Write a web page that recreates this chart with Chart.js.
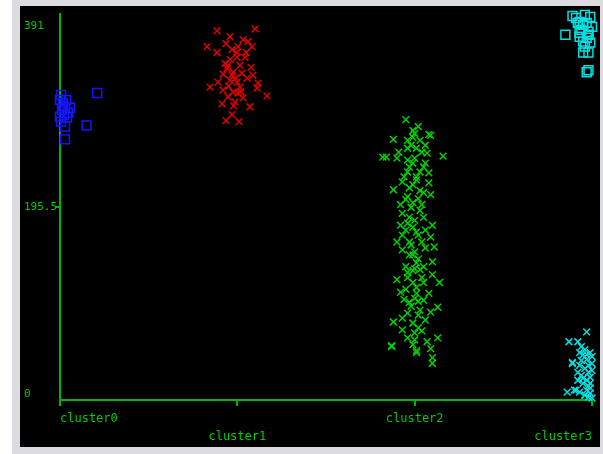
<!DOCTYPE html>
<html>
<head>
<meta charset="utf-8">
<script src="https://cdn.jsdelivr.net/npm/chart.js@4/dist/chart.umd.min.js"></script>
<style>
  body{margin:0;background:#fff;}
  #frame{position:absolute;left:12px;top:0;width:591px;height:454px;background:#dcdce0;}
  #plot{position:absolute;left:20px;top:6px;background:#000;}
</style>
</head>
<body>
<div id="frame"></div>
<canvas id="plot" width="580" height="441"></canvas>
<script>
// categories on the x axis (0..3), y axis ticks
const clusters = ["cluster0","cluster1","cluster2","cluster3"];
const yTicks = [0, 195.5, 391];

// blue squares near cluster0
const blueX = [0.006,0.21,0.017,0.056,0.028,0,0.04,0.028,0.15,0.028,0.011,0,0.045,0.017,0.034,0.006,0.023];
const blueY = [309,311,301,296,296,287,286,277,278,264,294,304,291,298,304,282,289];

// red crosses around cluster1
const redX = [0.885,1.10,0.959,0.829,1.032,1.06,0.936,1.083,0.97,1.004,0.885,0.998,0.93,0.947,1.015,1.077,0.976,1.026,1.088,1.055,0.959,0.891,1.117,0.846,1.111,0.919,0.976,1.004,1.167,0.947,1.032,0.987,0.914,1.071,0.97,0.936,1.009,0.998,0.942,0.998,1.015,0.97,1.043,0.96,0.99,1.02,0.95,0.98,1.05,0.92];
const redY = [374,376,368,358,365,363,361,358,355,358,352,347,341,339,339,337,332,331,329,326,324,322,321,317,316,314,312,311,308,307,306,302,300,297,289,283,282,352,336,322,317,329,347,345,326,312,318,298,352,330];

// green crosses around cluster2
const greenX = [1.95,1.99,2.02,2.09,2.08,1.88,1.96,2.03,1.99,1.82,1.84,1.91,1.90,2.16,1.96,2.04,2.07,1.99,2.06,1.96,2.03,2.08,1.93,2.01,2.08,1.88,1.97,1.96,2.05,2.09,1.92,1.99,2.03,1.93,1.97,2.05,2.10,1.92,1.99,1.96,1.93,2.02,2.09,1.90,1.97,2.11,1.93,2.06,1.99,2.01,2.10,1.95,1.90,1.96,2.03,2.10,2.14,1.96,1.99,2.05,1.92,2.01,2.08,1.97,2.05,2.13,2.03,1.88,1.93,1.99,2.06,2.02,1.93,2.09,1.96,2.00,2.07,2.13,1.87,2.01,2.09,2.10,2.01,2.10,1.87,
  1.98,2.00,1.97,2.01,1.99,2.02,1.98,2.00,2.01,1.98,2.00,2.02,1.99,2.01,2.00,1.98,2.02,2.00,1.96,2.04,1.95,2.05,2.04,1.95,2.04,1.94,2.05,1.96,2.06,2.03,1.97,2.02,1.99,2.04,1.94,2.00,2.06,1.95,2.01,2.00];
const greenY = [284,273,277,268,269,264,263,263,266,246,246,251,245,247,255,251,250,240,240,231,231,230,221,223,220,213,215,206,210,208,198,200,192,189,185,185,177,177,175,179,167,167,165,160,160,155,152,154,147,139,140,135,122,129,132,127,119,124,119,119,109,108,108,99,101,94,91,79,83,78,81,73,71,89,63,61,59,63,54,48,52,43,50,37,55,
  258,245,236,226,218,204,195,182,170,157,150,143,131,114,103,95,86,68,88,124,112,135,160,172,198,226,236,243,258,212,147,100,56,70,102,133,172,203,255,270];

// cyan squares at top of cluster3
const cyanSqX = [2.89,2.91,2.96,2.99,2.93,2.97,3.00,2.85,2.94,2.98,2.93,2.97,2.95,2.99,2.96,2.95,2.98,2.97,2.98,2.92,2.95,2.93,2.98];
const cyanSqY = [389,387,390,388,383,382,378,370,375,373,368,367,363,362,358,352,352,332,334,382,380,372,370];

// cyan crosses at bottom of cluster3
const cyanXX = [2.97,2.87,2.92,2.94,2.96,2.99,2.95,2.89,2.97,3.00,2.93,2.96,2.98,2.92,2.94,2.99,2.97,2.95,2.99,2.86,2.90,2.93,2.97,2.99,2.98,2.96,3.00,2.89,2.93,2.97,3.00,2.91,2.96,2.98,2.95,2.99,2.94,2.98,2.92,3.00];
const cyanXY = [69,59,59,54,51,48,46,38,41,37,35,32,28,28,25,23,20,17,17,8,10,8,10,7,3,5,2,37,48,46,30,10,5,14,22,12,40,35,20,44];

const pts = (xs,ys)=>xs.map((x,i)=>({x, y:ys[i]}));
const axisGreen = "#00b400";
const textGreen = "#00cc00";

function series(xs,ys,color,style,r){
  return {
    data: pts(xs,ys),
    pointStyle: style,
    pointRadius: r,
    borderColor: color,
    backgroundColor: "rgba(0,0,0,0)",
    borderWidth: 1.5,
    clip: false
  };
}

// the top label sits below its tick and the bottom one above, like the original
function yLabel(v){
  if(v===yTicks[2]) return ["","",String(v)];
  if(v===yTicks[0]) return [String(v),""];
  return String(v);
}

new Chart(document.getElementById("plot"),{
  type:"scatter",
  data:{
    datasets:[
      series(blueX,blueY,"#1414ff","rect",6.3),
      series(redX,redY,"#e00000","crossRot",4.8),
      series(greenX,greenY,"#00d000","crossRot",4.8),
      series(cyanSqX,cyanSqY,"#00e0e0","rect",6.3),
      series(cyanXX,cyanXY,"#00e0e0","crossRot",4.8)
    ]
  },
  options:{
    responsive:false,
    animation:false,
    layout:{padding:{left:4,top:8,right:8,bottom:0}},
    plugins:{legend:{display:false},tooltip:{enabled:false}},
    scales:{
      x:{
        type:"linear", min:0, max:3,
        afterBuildTicks:s=>{ s.ticks = clusters.map((c,i)=>({value:i})); },
        afterFit:s=>{ s.height = 47; s.paddingLeft = 0; s.paddingRight = 0; },
        border:{color:axisGreen,width:2},
        grid:{drawOnChartArea:false,color:axisGreen,tickLength:6,lineWidth:2},
        ticks:{
          color:textGreen, align:"inner", maxRotation:0, autoSkip:false, padding:4,
          font:{family:"DejaVu Sans Mono",size:12,lineHeight:1.5},
          callback:v=> v%2 ? ["", clusters[v]] : clusters[v]
        }
      },
      y:{
        min:0, max:391,
        afterBuildTicks:s=>{ s.ticks = yTicks.map(v=>({value:v})); },
        afterFit:s=>{ s.width = 36; s.paddingTop = 0; s.paddingBottom = 0; },
        border:{color:axisGreen,width:2},
        grid:{drawOnChartArea:false,tickLength:5,lineWidth:2,
          color:c=> c.index===1 ? axisGreen : "rgba(0,0,0,0)"},
        ticks:{
          color:textGreen, crossAlign:"far",
          font:{family:"DejaVu Sans Mono",size:11,lineHeight:1.1},
          callback:yLabel
        }
      }
    }
  }
});
</script>
</body>
</html>
